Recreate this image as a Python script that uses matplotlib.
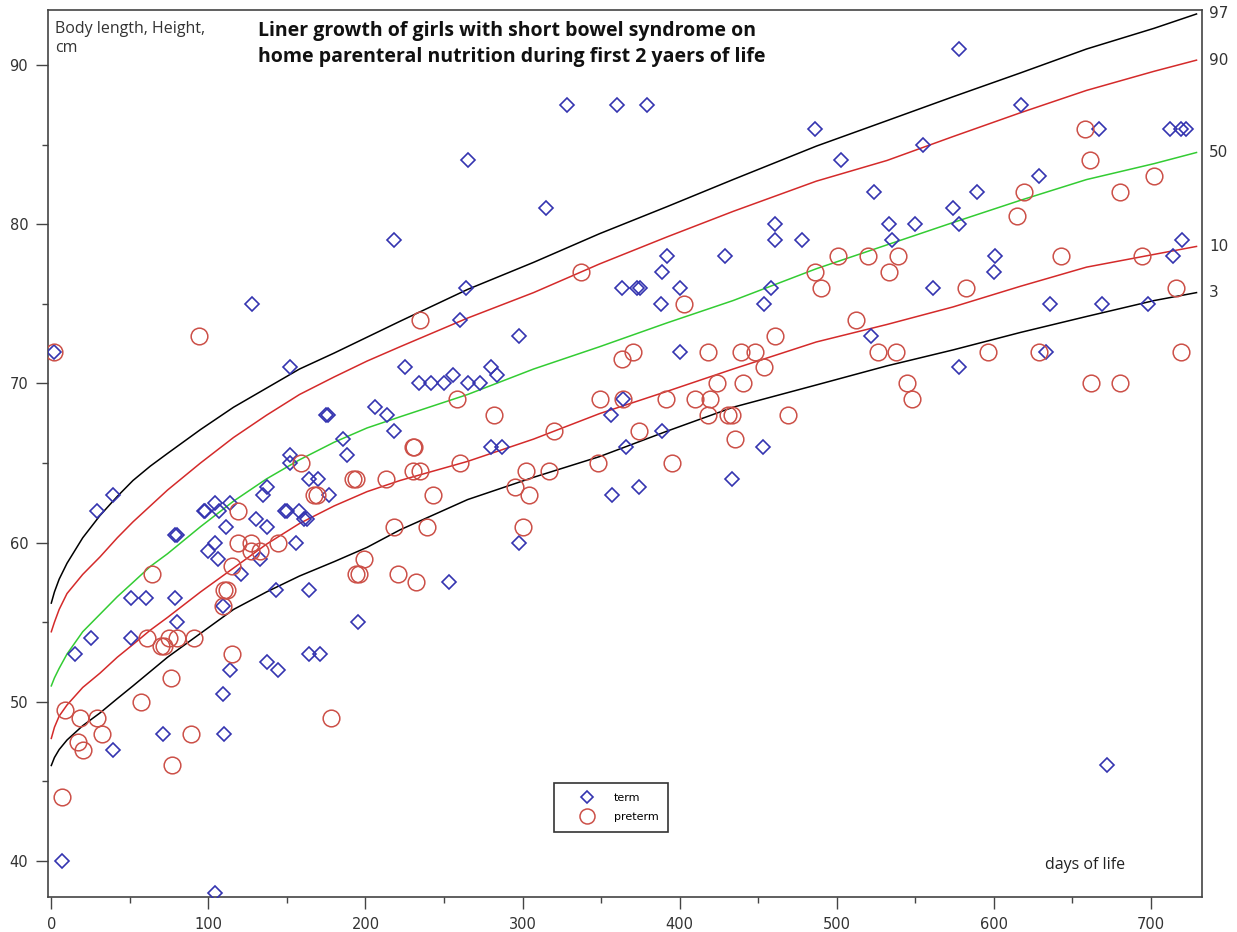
## Growth chart: length of girls on home parenteral nutrition vs reference centiles
import matplotlib
matplotlib.use('Agg')
import matplotlib.pyplot as plt
from matplotlib.ticker import MultipleLocator

##################################################
## reference centile curves (day of life, length in cm)
ref_days = [0, 2, 5, 10, 20, 31, 42, 52, 63, 74, 95, 116, 137, 158, 180, 201,
            222, 265, 307, 349, 392, 434, 487, 532, 574, 617, 659, 702, 729]
p97 = [56.2, 56.9, 57.7, 58.7, 60.3, 61.7, 62.9, 63.9, 64.8, 65.6, 67.1, 68.5,
       69.7, 70.9, 71.9, 72.9, 73.9, 75.9, 77.6, 79.4, 81.1, 82.8, 84.9, 86.5,
       88.0, 89.5, 91.0, 92.3, 93.2]
p90 = [54.4, 55.0, 55.8, 56.8, 58.0, 59.1, 60.3, 61.3, 62.3, 63.3, 65.0, 66.6,
       68.0, 69.3, 70.4, 71.4, 72.3, 74.1, 75.7, 77.5, 79.2, 80.8, 82.7, 84.0,
       85.5, 87.0, 88.4, 89.6, 90.3]
p50 = [51.0, 51.5, 52.1, 53.0, 54.4, 55.5, 56.6, 57.5, 58.5, 59.3, 61.0, 62.6,
       64.0, 65.2, 66.3, 67.2, 67.9, 69.3, 70.9, 72.3, 73.8, 75.2, 77.2, 78.7,
       80.1, 81.5, 82.8, 83.8, 84.5]
p10 = [47.7, 48.4, 49.1, 49.8, 50.9, 51.8, 52.8, 53.6, 54.5, 55.3, 56.9, 58.4,
       59.9, 61.2, 62.3, 63.2, 63.9, 65.1, 66.5, 68.1, 69.5, 70.9, 72.6, 73.7,
       74.8, 76.1, 77.3, 78.1, 78.6]
p3 = [46.0, 46.5, 47.0, 47.6, 48.5, 49.3, 50.2, 51.0, 51.9, 52.8, 54.3, 55.8,
      56.9, 57.9, 58.8, 59.7, 60.8, 62.7, 64.1, 65.4, 67.0, 68.5, 69.9, 71.1,
      72.1, 73.2, 74.2, 75.2, 75.7]

## term born girls
term_days = [2, 7, 15, 25, 29, 39, 39, 51, 51, 60, 71, 79, 80, 79, 80, 97, 98,
             100, 104, 104, 104, 106, 107, 109, 109, 110, 111, 114, 114, 121,
             128, 130, 133, 135, 137, 137, 137, 143, 144, 149, 150, 152, 152,
             152, 156, 158, 161, 163, 164, 164, 164, 170, 171, 175, 176, 177,
             186, 188, 195, 206, 214, 218, 218, 225, 234, 242, 250, 253, 256,
             260, 264, 265, 265, 273, 280, 280, 284, 287, 298, 298, 315, 328,
             356, 357, 360, 363, 364, 366, 373, 375, 374, 379, 388, 389, 389,
             392, 400, 400, 429, 433, 453, 454, 458, 461, 461, 478, 486, 503,
             522, 524, 533, 535, 550, 555, 561, 574, 578, 578, 578, 589, 600,
             601, 617, 629, 633, 636, 667, 669, 672, 698, 712, 719, 722, 714,
             720]
term_len = [72, 40, 53, 54, 62, 63, 47, 54, 56.5, 56.5, 48, 60.5, 60.5, 56.5,
            55, 62, 62, 59.5, 38, 62.5, 60, 59, 62, 56, 50.5, 48, 61, 62.5, 52,
            58, 75, 61.5, 59, 63, 61, 52.5, 63.5, 57, 52, 62, 62, 71, 65.5, 65,
            60, 62, 61.5, 61.5, 64, 57, 53, 64, 53, 68, 68, 63, 66.5, 65.5, 55,
            68.5, 68, 67, 79, 71, 70, 70, 70, 57.5, 70.5, 74, 76, 70, 84, 70,
            71, 66, 70.5, 66, 73, 60, 81, 87.5, 68, 63, 87.5, 76, 69, 66, 76,
            76, 63.5, 87.5, 75, 77, 67, 78, 76, 72, 78, 64, 66, 75, 76, 80, 79,
            79, 86, 84, 73, 82, 80, 79, 80, 85, 76, 81, 91, 80, 71, 82, 77, 78,
            87.5, 83, 72, 75, 86, 75, 46, 75, 86, 86, 86, 78, 79]

## preterm born girls
preterm_days = [2, 7, 9, 17, 18, 20, 29, 32, 57, 61, 64, 70, 72, 75, 76, 77,
                80, 89, 91, 94, 109, 110, 112, 115, 115, 119, 119, 127, 127,
                133, 144, 159, 167, 169, 178, 192, 194, 194, 196, 199, 213,
                218, 221, 230, 230, 231, 232, 235, 235, 239, 243, 258, 260,
                282, 295, 300, 302, 304, 317, 320, 337, 348, 349, 363, 364,
                370, 374, 391, 395, 403, 410, 418, 418, 419, 424, 431, 433,
                435, 439, 440, 448, 454, 461, 469, 486, 490, 501, 512, 520,
                526, 533, 538, 539, 545, 548, 582, 596, 615, 619, 629, 643,
                658, 661, 662, 680, 680, 694, 702, 716, 719]
preterm_len = [72, 44, 49.5, 47.5, 49, 47, 49, 48, 50, 54, 58, 53.5, 53.5, 54,
               51.5, 46, 54, 48, 54, 73, 56, 57, 57, 58.5, 53, 62, 60, 60,
               59.5, 59.5, 60, 65, 63, 63, 49, 64, 64, 58, 58, 59, 64, 61, 58,
               64.5, 66, 66, 57.5, 64.5, 74, 61, 63, 69, 65, 68, 63.5, 61, 64.5,
               63, 64.5, 67, 77, 65, 69, 71.5, 69, 72, 67, 69, 65, 75, 69, 68,
               72, 69, 70, 68, 68, 66.5, 72, 70, 72, 71, 73, 68, 77, 76, 78,
               74, 78, 72, 77, 72, 78, 70, 69, 76, 72, 80.5, 82, 72, 78, 86, 84,
               70, 70, 82, 78, 83, 76, 72]

centiles = [('97', p97, 'black'), ('90', p90, '#d42a2a'), ('50', p50, '#33cc33'),
            ('10', p10, '#d42a2a'), ('3', p3, 'black')]
##################################################

fig = plt.figure(figsize=(12.37, 9.32), dpi=100)
ax = fig.add_axes([0.03905, 0.03788, 0.93266, 0.95140])

for lab, vals, col in centiles:
    ax.plot(ref_days, vals, color=col, lw=1.1, zorder=2)
    ax.text(737, vals[-1], lab, fontsize=11, color='#333333',
            va='center', ha='left', clip_on=False)

ax.plot(term_days, term_len, ls='none', marker='D', ms=6.8, mfc='none',
        mec='#3434b0', mew=1.2, label='term', zorder=3)
ax.plot(preterm_days, preterm_len, ls='none', marker='o', ms=12, mfc='none',
        mec='#cc5048', mew=1.1, label='preterm', zorder=3)

ax.set_xlim(-1.9, 732.5)
ax.set_ylim(37.76, 93.45)
ax.xaxis.set_major_locator(MultipleLocator(100))
ax.xaxis.set_minor_locator(MultipleLocator(50))
ax.yaxis.set_major_locator(MultipleLocator(10))
ax.yaxis.set_minor_locator(MultipleLocator(5))
ax.tick_params(which='major', length=8.5, width=1, color='#444444',
               labelsize=10.5, labelcolor='#333333', pad=6)
ax.tick_params(which='minor', length=4.5, width=1, color='#444444')
for sp in ax.spines.values():
    sp.set_color('#444444')
    sp.set_linewidth(1.2)

ax.text(0.006, 0.988, 'Body length, Height,\ncm', transform=ax.transAxes,
        fontsize=11.5, color='#333333', va='top', ha='left', family='Open Sans',
        linespacing=1.25)
ax.text(0.182, 0.988, 'Liner growth of girls with short bowel syndrome on\n'
        'home parenteral nutrition during first 2 yaers of life',
        transform=ax.transAxes, fontsize=14, fontweight='bold',
        color='#111111', va='top', ha='left', family='Open Sans',
        linespacing=1.45)
ax.text(0.864, 0.036, 'days of life', transform=ax.transAxes, fontsize=11.5,
        color='#222222', va='center', ha='left', family='Open Sans')

leg = ax.legend(loc='upper left', bbox_to_anchor=(0.438, 0.128), fontsize=8,
                frameon=True, fancybox=False, edgecolor='#333333',
                framealpha=1, borderpad=0.9, handlelength=4.2,
                handletextpad=0.3, labelspacing=0.75, borderaxespad=0,
                markerscale=0.9)
leg.get_frame().set_linewidth(1.2)

fig.savefig('out.png', dpi=100)
